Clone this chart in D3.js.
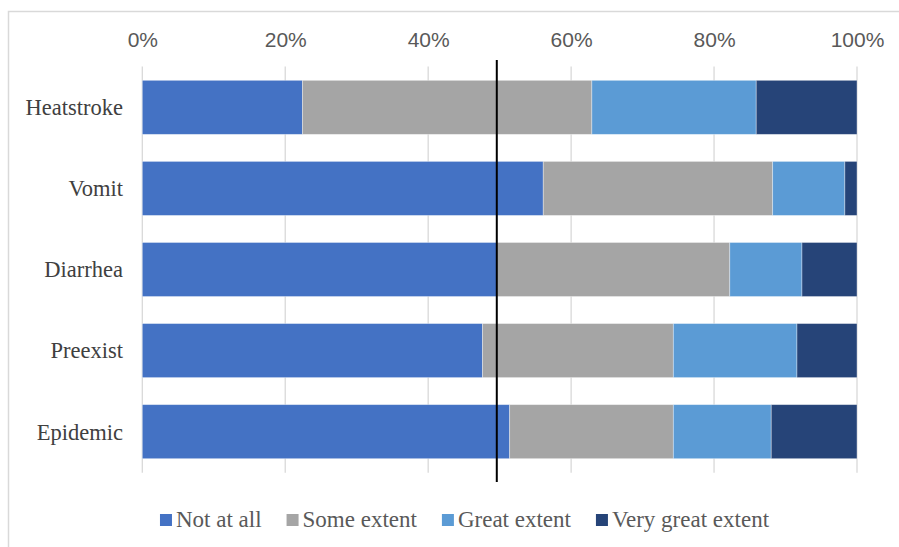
<!DOCTYPE html>
<html>
<head>
<meta charset="utf-8">
<script src="https://cdn.jsdelivr.net/npm/d3@7"></script>
<style>
	html, body { margin: 0; padding: 0; background: #ffffff; }
	svg { display: block; }
</style>
</head>
<body>
<div id="chart"></div>
<script>
// categories, top to bottom
var categories = ["Heatstroke", "Vomit", "Diarrhea", "Preexist", "Epidemic"];
var seriesNames = ["Not at all", "Some extent", "Great extent", "Very great extent"];

// percent of answers per category (same order as categories)
var notAtAll = [22.4, 56.1, 49.6, 47.6, 51.4];
var someExtent = [40.5, 32.1, 32.6, 26.7, 22.9];
var greatExtent = [23.0, 10.1, 10.1, 17.3, 13.7];
var veryGreatExtent = [14.1, 1.7, 7.7, 8.4, 12.0];

var tickValues = [0, 20, 40, 60, 80, 100];
var markerValue = 49.6;

var colors = ["#4472c4", "#a5a5a5", "#5b9bd5", "#264478"];

var width = 899;
var height = 547;

var svg = d3.select("#chart").append("svg")
	.attr("width", width)
	.attr("height", height);

// chart area border (runs off the right and bottom edge)
svg.append("rect")
	.attr("x", 8.5)
	.attr("y", 11.5)
	.attr("width", 1000)
	.attr("height", 1000)
	.attr("fill", "none")
	.attr("stroke", "#d9d9d9")
	.attr("stroke-width", 1.5);

var x = d3.scaleLinear()
	.domain([0, 100])
	.range([142.3, 857]);

var y = d3.scaleBand()
	.domain(categories)
	.range([66.8, 472.2])
	.paddingInner(1 / 3)
	.paddingOuter(1 / 6);

// gridlines
svg.append("g")
	.selectAll("line")
	.data(tickValues)
	.enter().append("line")
	.attr("x1", function(d) { return x(d); })
	.attr("x2", function(d) { return x(d); })
	.attr("y1", 66.5)
	.attr("y2", 472.7)
	.attr("stroke", "#d9d9d9")
	.attr("stroke-width", 1.3);

// top axis labels
var axis = svg.append("g")
	.attr("transform", "translate(0,47)")
	.call(d3.axisTop(x)
		.tickValues(tickValues)
		.tickSize(0)
		.tickPadding(0)
		.tickFormat(function(d) { return d + "%"; }));
axis.select(".domain").remove();
axis.selectAll("text")
	.attr("fill", "#595959")
	.style("font-family", "'Liberation Sans', Arial, sans-serif")
	.style("font-size", "21px");

// stacked bars
var rows = categories.map(function(c, i) {
	return {
		cat: c,
		s0: notAtAll[i],
		s1: someExtent[i],
		s2: greatExtent[i],
		s3: veryGreatExtent[i]
	};
});

var stacked = d3.stack().keys(["s0", "s1", "s2", "s3"])(rows);

svg.append("g")
	.selectAll("g")
	.data(stacked)
	.enter().append("g")
	.attr("fill", function(d, i) { return colors[i]; })
	.selectAll("rect")
	.data(function(d) { return d; })
	.enter().append("rect")
	.attr("x", function(d) { return x(d[0]); })
	.attr("width", function(d) { return x(d[1]) - x(d[0]); })
	.attr("y", function(d) { return y(d.data.cat); })
	.attr("height", y.bandwidth())
	.attr("stroke", "rgba(255,255,255,0.45)")
	.attr("stroke-width", 0.8);

// category labels
svg.append("g")
	.selectAll("text")
	.data(categories)
	.enter().append("text")
	.attr("x", 123)
	.attr("y", function(d) { return y(d) + y.bandwidth() / 2; })
	.attr("dy", "0.35em")
	.attr("text-anchor", "end")
	.attr("fill", "#404040")
	.style("font-family", "'Liberation Serif', 'Times New Roman', serif")
	.style("font-size", "22.5px")
	.text(function(d) { return d; });

// reference line
svg.append("line")
	.attr("x1", x(markerValue))
	.attr("x2", x(markerValue))
	.attr("y1", 60)
	.attr("y2", 482)
	.attr("stroke", "#000000")
	.attr("stroke-width", 2);

// legend
var legend = svg.append("g");
var cursor = 0;
seriesNames.forEach(function(name, i) {
	var item = legend.append("g").attr("transform", "translate(" + cursor + ",0)");
	item.append("rect")
		.attr("x", 0)
		.attr("y", -13)
		.attr("width", 12)
		.attr("height", 12)
		.attr("fill", colors[i]);
	var t = item.append("text")
		.attr("x", 16)
		.attr("y", 0)
		.attr("fill", "#595959")
		.style("font-family", "'Liberation Serif', 'Times New Roman', serif")
		.style("font-size", "23px")
		.text(name);
	cursor += 16 + t.node().getComputedTextLength() + 25;
});
var legendWidth = cursor - 25;
legend.attr("transform", "translate(" + (464.5 - legendWidth / 2) + ",527)");
</script>
</body>
</html>
